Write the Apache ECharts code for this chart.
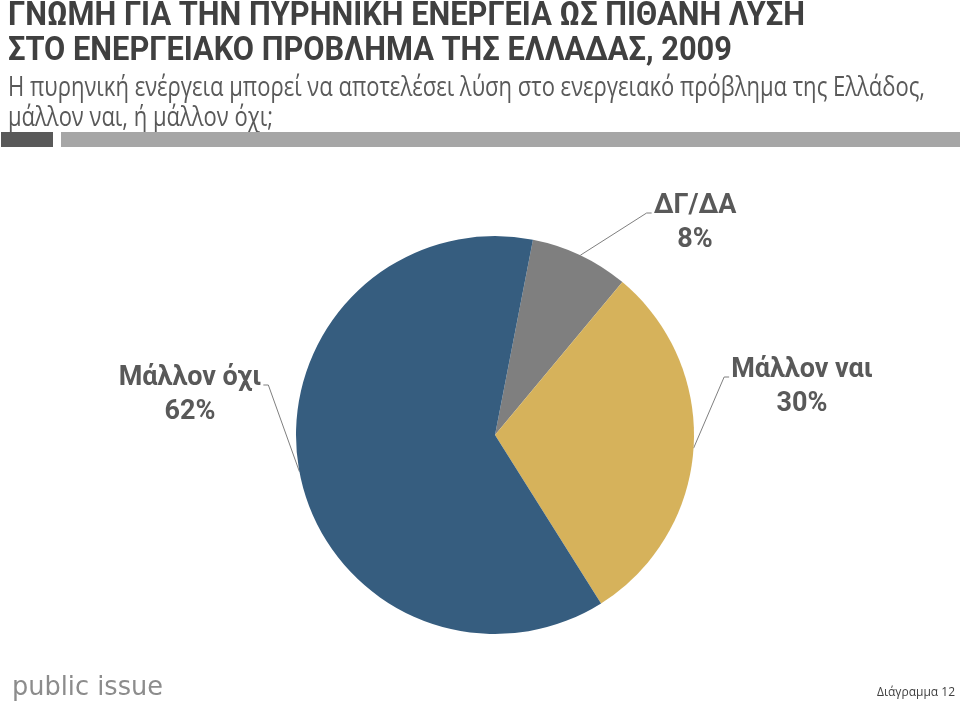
<!DOCTYPE html>
<html>
<head>
<meta charset="utf-8">
<title>Πυρηνική ενέργεια 2009</title>
<script src="https://cdn.jsdelivr.net/npm/echarts@6/dist/echarts.min.js"></script>
<style>
  html, body { margin: 0; padding: 0; background: #fff; }
  #chart { width: 960px; height: 702px; }
</style>
</head>
<body>
<div id="chart"></div>
<script>
// data
const names = ['ΔΓ/ΔΑ', 'Μάλλον ναι', 'Μάλλον όχι'];
const values = [8, 30, 62];
const colors = ['#7f7f7f', '#d6b25b', '#365d7f'];

const titleLines = ['ΓΝΩΜΗ ΓΙΑ ΤΗΝ ΠΥΡΗΝΙΚΗ ΕΝΕΡΓΕΙΑ ΩΣ ΠΙΘΑΝΗ ΛΥΣΗ', 'ΣΤΟ ΕΝΕΡΓΕΙΑΚΟ ΠΡΟΒΛΗΜΑ ΤΗΣ ΕΛΛΑΔΑΣ, 2009'];
const subLines = ['Η πυρηνική ενέργεια μπορεί να αποτελέσει λύση στο ενεργειακό πρόβλημα της Ελλάδος,', 'μάλλον ναι, ή μάλλον όχι;'];
const logoText = 'public issue';
const pageText = 'Διάγραμμα 12';

// where each slice label sits (text centre x, top of block) and which side the leader joins
const labelSpots = [
  { x: 695, y: 189, side: 'left' },
  { x: 802, y: 353, side: 'left' },
  { x: 190, y: 361, side: 'right' }
];

// squeeze text horizontally to look like the condensed fonts of the original
const measureCtx = document.createElement('canvas').getContext('2d');
function fitScale(text, font, width) {
  measureCtx.font = font;
  return width / measureCtx.measureText(text).width;
}

const titleFont = 'bold 34px Roboto, "Noto Sans", sans-serif';
const subFont = '27px "Open Sans", "Noto Sans", sans-serif';
const logoFont = '27px "DejaVu Sans", sans-serif';
const titleScale = fitScale(titleLines[0], titleFont, 797);
const subScale = fitScale(subLines[0], subFont, 917);
const logoScale = fitScale(logoText, logoFont, 151);

function textEl(text, font, x, y, fill, scale, align) {
  return {
    type: 'text',
    x: x,
    y: y,
    scaleX: scale,
    silent: true,
    style: { text: text, font: font, fill: fill, align: align || 'left', verticalAlign: 'middle' }
  };
}

const chart = echarts.init(document.getElementById('chart'), null, { renderer: 'canvas' });

const option = {
  backgroundColor: '#fff',
  animation: false,
  graphic: [
    textEl(titleLines[0], titleFont, 8, 16, '#404040', titleScale),
    textEl(titleLines[1], titleFont, 8, 51, '#404040', titleScale),
    textEl(subLines[0], subFont, 8, 88, '#595959', subScale),
    textEl(subLines[1], subFont, 8, 118, '#595959', subScale),
    { type: 'rect', silent: true, shape: { x: 1, y: 132, width: 52, height: 15 }, style: { fill: '#595959' } },
    { type: 'rect', silent: true, shape: { x: 61, y: 132, width: 899, height: 15 }, style: { fill: '#a6a6a6' } },
    textEl(logoText, logoFont, 12, 688, '#8c8c8c', logoScale),
    textEl(pageText, '12px "Open Sans", "Noto Sans", sans-serif', 955, 693, '#404040', 1, 'right')
  ],
  series: [
    {
      type: 'pie',
      center: [495, 435],
      radius: 199,
      startAngle: 79,
      clockwise: true,
      avoidLabelOverlap: false,
      silent: true,
      itemStyle: { borderWidth: 0 },
      label: {
        show: true,
        position: 'outside',
        formatter: '{b}\n{c}%',
        fontFamily: 'Roboto, "Noto Sans", sans-serif',
        fontWeight: 'bold',
        fontSize: 27,
        lineHeight: 34,
        color: '#595959'
      },
      labelLine: {
        show: true,
        lineStyle: { color: '#7f7f7f', width: 1 }
      },
      labelLayout: function (p) {
        const s = labelSpots[p.dataIndex];
        const w = p.labelRect.width;
        const ly = s.y + 24;
        const ex = s.side === 'left' ? s.x - w / 2 - 2 : s.x + w / 2 + 2;
        const mx = s.side === 'left' ? ex - 5 : ex + 5;
        return {
          x: s.x,
          y: s.y,
          align: 'center',
          verticalAlign: 'top',
          labelLinePoints: [p.labelLinePoints[0], [mx, ly], [ex, ly]]
        };
      },
      data: names.map(function (n, i) {
        return { name: n, value: values[i], itemStyle: { color: colors[i] } };
      })
    }
  ]
};

chart.setOption(option);
</script>
</body>
</html>
